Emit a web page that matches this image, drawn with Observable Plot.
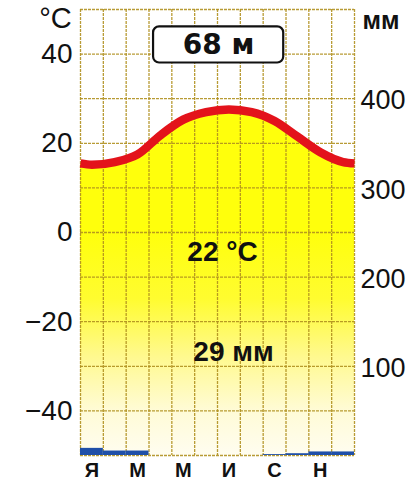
<!DOCTYPE html>
<html>
<head>
<meta charset="utf-8">
<script src="https://cdn.jsdelivr.net/npm/d3@7"></script>
<script src="https://cdn.jsdelivr.net/npm/@observablehq/plot@0.6"></script>
<style>
  html, body { margin: 0; padding: 0; background: #fff; }
  #chart { width: 414px; height: 483px; }
</style>
</head>
<body>
<div id="chart"></div>
<script>
// ---- data ----
const months = ["Я","Ф","М","А","М","И","И","А","С","О","Н","Д"];
const monthTickLabels = ["Я","М","М","И","С","Н"];
const temperature = [15.2, 15.8, 17.5, 21.8, 25.3, 27.0, 27.6, 27.0, 25.0, 21.5, 18.0, 15.8]; // °C
const precipitation = [8, 5, 5, 0, 0, 0, 0, 0, 1, 2, 4, 4]; // mm
const tempTicks = [-40, -20, 0, 20, 40];
const mmTicks = [100, 200, 300, 400];
const elevation = 68;      // m
const annualTemp = 22;     // °C
const annualPrecip = 29;   // mm

// ---- helpers ----
const mmToT = mm => -50 + mm / 5;   // right axis: 100 mm = 20 °C
const fmt = v => (v < 0 ? "\u2212" + Math.abs(v) : String(v));

const monthRows = temperature.map((t, i) => ({x: i + 0.5, t}));
const edgeT = (temperature[0] + temperature[11]) / 2; // cyclic year boundary
const curve = [{x: 0, t: edgeT}, ...monthRows, {x: 12, t: edgeT}];
const precipRows = precipitation.map((p, i) => ({x1: i, x2: i + 1, y1: -50, y2: mmToT(p)}));
const gridT = d3.range(-50, 51, 10);
const gridX = d3.range(0, 13);

const box = {x1: 3.2, x2: 8.9, y1: 38, y2: 46.1};
const font = "'Liberation Sans', Arial, sans-serif";
const gridColor = "#b0901f";

const plot = Plot.plot({
  width: 414,
  height: 483,
  marginLeft: 80,
  marginRight: 60,
  marginTop: 9,
  marginBottom: 28,
  style: {fontFamily: font, background: "#fff", overflow: "visible"},
  x: {type: "linear", domain: [0, 12], axis: null},
  y: {domain: [-50, 50], axis: null},
  marks: [
    Plot.areaY(curve, {x: "x", y1: -50, y2: "t", curve: "monotone-x", fill: "url(#yellowGrad)"}),
    Plot.ruleY(gridT, {stroke: gridColor, strokeWidth: 1.3, strokeDasharray: "3,1", strokeOpacity: 0.9}),
    Plot.ruleX(gridX, {stroke: gridColor, strokeWidth: 1.3, strokeDasharray: "3,1", strokeOpacity: 0.9}),
    Plot.rect(precipRows, {x1: "x1", x2: "x2", y1: "y1", y2: "y2", fill: "#1f4fa8"}),
    Plot.line(curve, {x: "x", y: "t", curve: "monotone-x", stroke: "#e3131b", strokeWidth: 8.5, strokeLinecap: "butt"}),
    // annotation box
    Plot.rect([box], {x1: "x1", x2: "x2", y1: "y1", y2: "y2", fill: "#fff", stroke: "#111", strokeWidth: 2.2, rx: 6}),
    Plot.text([`${elevation} м`], {x: (box.x1 + box.x2) / 2, y: (box.y1 + box.y2) / 2, fontSize: 28, fontWeight: "bold", fill: "#111", lineAnchor: "middle", fontFamily: "'DejaVu Sans', sans-serif"}),
    Plot.text([`${annualTemp} °C`], {x: 6.22, y: -4.4, fontSize: 28, fontWeight: "bold", fill: "#111", lineAnchor: "middle"}),
    Plot.text([`${annualPrecip} мм`], {x: 6.7, y: -26.7, fontSize: 28, fontWeight: "bold", fill: "#111", lineAnchor: "middle"}),
    // left axis labels
    Plot.text(tempTicks, {x: 0, y: d => d, text: fmt, dx: -8, textAnchor: "end", lineAnchor: "middle", fontSize: 28, fill: "#111"}),
    // right axis labels
    Plot.text(mmTicks, {x: 12, y: d => mmToT(d), text: d => String(d), dx: 6, dy: 2, textAnchor: "start", lineAnchor: "middle", fontSize: 27, fill: "#111"}),
    // month labels
    Plot.text(monthTickLabels, {x: (d, i) => 2 * i + 0.5, y: -50, dy: 15, text: d => d, fontSize: 20, fontWeight: "bold", fill: "#111", lineAnchor: "middle"}),
    // unit labels
    Plot.text(["°C"], {x: 0, y: 50, dx: -25, dy: 9, fontSize: 29, fill: "#111", lineAnchor: "middle"}),
    Plot.text(["мм"], {x: 12, y: 50, dx: 8, dy: 11, textAnchor: "start", fontSize: 25, fontWeight: "bold", fill: "#111", lineAnchor: "middle"})
  ]
});

// gradient for the yellow fill
const ys = plot.scale("y");
const svg = d3.select(plot.tagName === "svg" ? plot : plot.querySelector("svg"));
const defs = svg.insert("defs", ":first-child");
const grad = defs.append("linearGradient")
  .attr("id", "yellowGrad")
  .attr("gradientUnits", "userSpaceOnUse")
  .attr("x1", 0).attr("x2", 0)
  .attr("y1", ys.apply(0)).attr("y2", ys.apply(-50));
[[0, "#ffff0c"], [0.3, "#fffc30"], [0.55, "#fff98c"], [0.8, "#fffbd6"], [1, "#fffdf0"]]
  .forEach(([o, c]) => grad.append("stop").attr("offset", o).attr("stop-color", c));

document.getElementById("chart").appendChild(plot);
</script>
</body>
</html>
